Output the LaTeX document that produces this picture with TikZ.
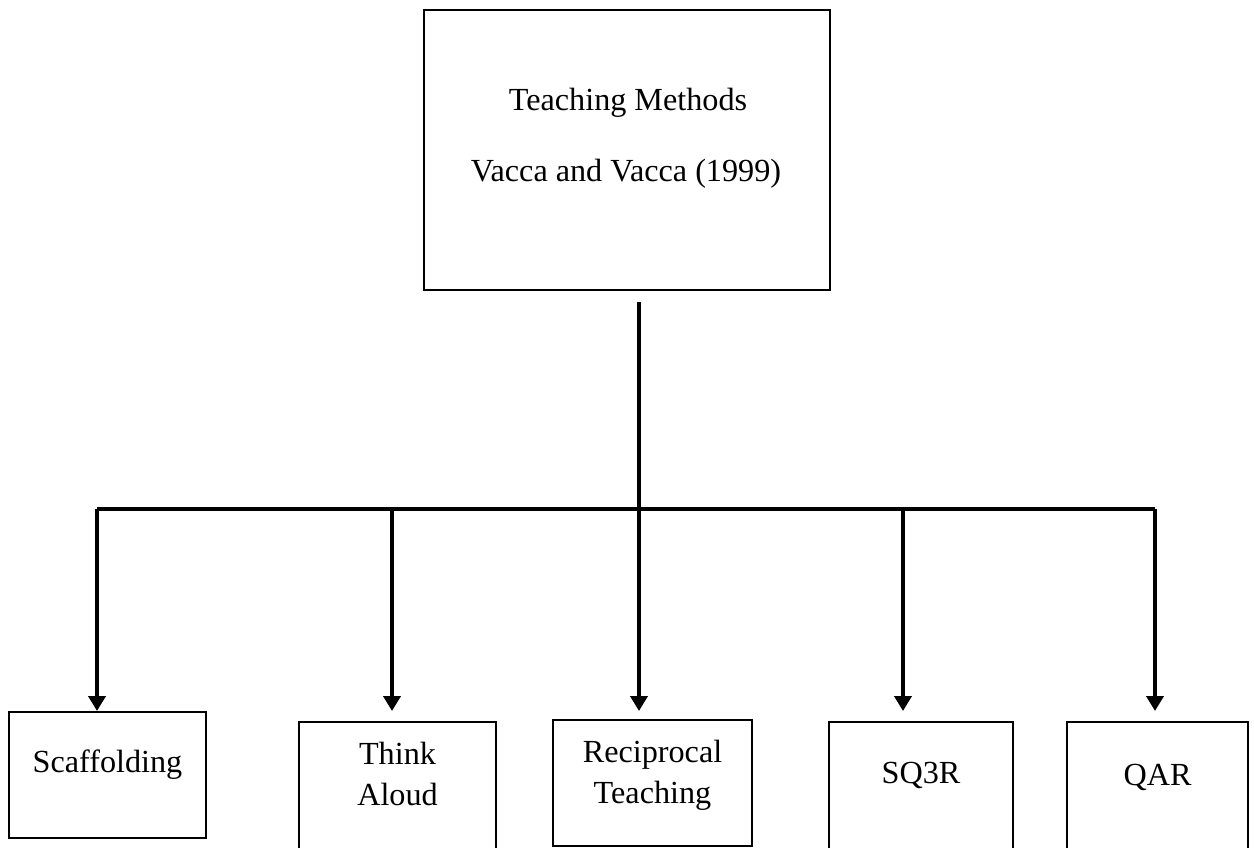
\documentclass[tikz,border=0pt]{standalone}
\usepackage{fontspec}
\setmainfont{Liberation Serif}
\usetikzlibrary{arrows.meta}
\begin{document}
\begin{tikzpicture}[x=0.5pt,y=-0.5pt,
  box/.style={draw,line width=1.3pt,inner sep=0pt,rectangle},
  lbl/.style={font=\fontsize{16.1}{20.5}\selectfont,anchor=base,align=center,inner sep=0pt},
  conn/.style={line width=1.9pt},
  arr/.style={line width=1.9pt,-{Triangle[length=7.5pt,width=8.5pt]}}]
\useasboundingbox (0,0) rectangle (1254,847);
\clip (0,0) rectangle (1254,847);
% top box
\node[box,minimum width=203pt,minimum height=140pt] (top) at (627,150) {};
\node[lbl] (t1) at (628,110) {Teaching Methods};
\node[lbl] (t2) at (626,181) {Vacca and Vacca (1999)};
% bottom boxes
\node[box,minimum width=98.5pt,minimum height=63pt] (scaf) at (107.5,775) {};
\node[box,minimum width=98.5pt,minimum height=74pt] (think) at (397.5,796) {};
\node[box,minimum width=99.5pt,minimum height=63pt] (recip) at (652.5,783) {};
\node[box,minimum width=92pt,minimum height=74pt] (sq3r) at (921,796) {};
\node[box,minimum width=90.5pt,minimum height=74pt] (qar) at (1157.5,796) {};
% labels
\node[lbl] (l1) at (107.5,772) {Scaffolding};
\node[lbl,text width=95pt] (l2) at (397.5,764) {Think\\Aloud};
\node[lbl,text width=95pt] (l3) at (652.5,762) {Reciprocal\\Teaching};
\node[lbl] (l4) at (921,783) {SQ3R};
\node[lbl] (l5) at (1157.5,785) {QAR};
% connector coordinates
\coordinate (stem) at (639,302);
\coordinate (j) at (639,509);
\coordinate (b1) at (97,509);
\coordinate (b2) at (392,509);
\coordinate (b3) at (639,509);
\coordinate (b4) at (903,509);
\coordinate (b5) at (1155,509);
\coordinate (e1) at (97,711);
\coordinate (e2) at (392,711);
\coordinate (e3) at (639,711);
\coordinate (e4) at (903,711);
\coordinate (e5) at (1155,711);
% connectors
\draw[conn] (stem) -- (j);
\draw[conn] (b1) -- (b5);
\draw[arr] (b1) -- (e1);
\draw[arr] (b2) -- (e2);
\draw[arr] (b3) -- (e3);
\draw[arr] (b4) -- (e4);
\draw[arr] (b5) -- (e5);
\end{tikzpicture}
\end{document}
